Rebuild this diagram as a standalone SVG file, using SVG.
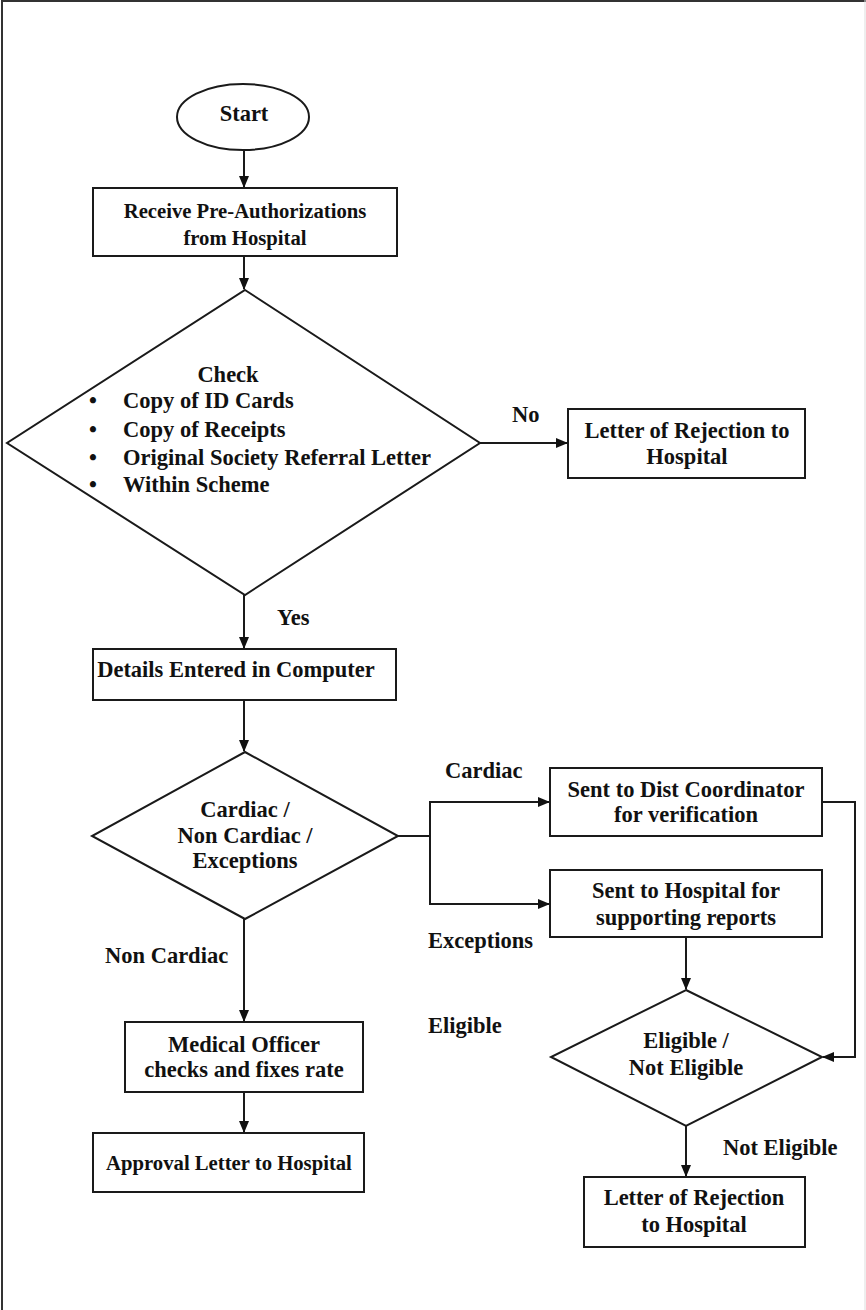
<svg xmlns="http://www.w3.org/2000/svg" width="866" height="1310" viewBox="0 0 866 1310">
<defs>
<marker id="ah" markerWidth="12" markerHeight="10" refX="11" refY="5" orient="auto" markerUnits="userSpaceOnUse">
<path d="M0,0 L12,5 L0,10 Z" fill="#111"/>
</marker>
<style>
.s{fill:#fff;stroke:#1a1a1a;stroke-width:2}
.c{fill:none;stroke:#1a1a1a;stroke-width:2}
.t{font-family:"Liberation Serif",serif;font-weight:bold;font-size:22.5px;fill:#111}
.sm{font-size:20.7px}
.m{text-anchor:middle}
</style>
</defs>
<rect x="0" y="0" width="866" height="1310" fill="#fff"/>
<line x1="2" y1="1" x2="2" y2="1310" stroke="#333" stroke-width="2"/>
<line x1="1" y1="1" x2="866" y2="1" stroke="#333" stroke-width="2"/>
<line x1="865" y1="0" x2="865" y2="1310" stroke="#ddd" stroke-width="1"/>

<g id="connectors">
<line class="c" x1="244" y1="150" x2="244" y2="187" marker-end="url(#ah)"/>
<line class="c" x1="244" y1="256" x2="244" y2="289" marker-end="url(#ah)"/>
<line class="c" x1="480" y1="443" x2="567" y2="443" marker-end="url(#ah)"/>
<line class="c" x1="244" y1="595" x2="244" y2="648" marker-end="url(#ah)"/>
<line class="c" x1="244" y1="700" x2="244" y2="751" marker-end="url(#ah)"/>
<polyline class="c" points="398,836 430,836 430,802 549,802" marker-end="url(#ah)"/>
<polyline class="c" points="430,836 430,904 549,904" marker-end="url(#ah)"/>
<polyline class="c" points="822,802 855,802 855,1057 823,1057" marker-end="url(#ah)"/>
<line class="c" x1="686" y1="937" x2="686" y2="989" marker-end="url(#ah)"/>
<line class="c" x1="686" y1="1126" x2="686" y2="1176" marker-end="url(#ah)"/>
<line class="c" x1="244" y1="919" x2="244" y2="1021" marker-end="url(#ah)"/>
<line class="c" x1="244" y1="1092" x2="244" y2="1132" marker-end="url(#ah)"/>
<text class="t" x="512" y="422">No</text>
<text class="t" x="277" y="625">Yes</text>
<text class="t" x="445" y="778">Cardiac</text>
<text class="t" x="428" y="948">Exceptions</text>
<text class="t" x="105" y="963">Non Cardiac</text>
<text class="t" x="428" y="1033">Eligible</text>
<text class="t" x="723" y="1155">Not Eligible</text>
</g>

<g id="start">
<ellipse class="s" cx="243" cy="117" rx="66" ry="33"/>
<text class="t m" x="244" y="121">Start</text>
</g>

<g id="receive">
<rect class="s" x="93" y="188" width="304" height="68"/>
<text class="t sm m" x="245" y="218">Receive Pre-Authorizations</text>
<text class="t sm m" x="245" y="245">from Hospital</text>
</g>

<g id="check">
<polygon class="s" points="245,290 480,443 245,595 7,443"/>
<text class="t m" x="228" y="382">Check</text>
<text class="t" x="89" y="408">•</text>
<text class="t" x="123" y="408">Copy of ID Cards</text>
<text class="t" x="89" y="437">•</text>
<text class="t" x="123" y="437">Copy of Receipts</text>
<text class="t" x="89" y="465">•</text>
<text class="t" x="123" y="465">Original Society Referral Letter</text>
<text class="t" x="89" y="492">•</text>
<text class="t" x="123" y="492">Within Scheme</text>
</g>

<g id="reject1">
<rect class="s" x="568" y="409" width="237" height="69"/>
<text class="t m" x="687" y="438">Letter of Rejection to</text>
<text class="t m" x="687" y="464">Hospital</text>
</g>

<g id="details">
<rect class="s" x="93" y="649" width="303" height="51"/>
<text class="t m" x="236" y="677">Details Entered in Computer</text>
</g>

<g id="type">
<polygon class="s" points="245,752 398,836 245,919 92,836"/>
<text class="t m" x="245" y="817">Cardiac /</text>
<text class="t m" x="245" y="843">Non Cardiac /</text>
<text class="t m" x="245" y="868">Exceptions</text>
</g>

<g id="dist">
<rect class="s" x="550" y="768" width="272" height="68"/>
<text class="t m" x="686" y="797">Sent to Dist Coordinator</text>
<text class="t m" x="686" y="822">for verification</text>
</g>

<g id="supporting">
<rect class="s" x="550" y="870" width="272" height="67"/>
<text class="t m" x="686" y="898">Sent to Hospital for</text>
<text class="t m" x="686" y="925">supporting reports</text>
</g>

<g id="eligible">
<polygon class="s" points="686,990 822,1057 686,1126 551,1057"/>
<text class="t m" x="686" y="1048">Eligible /</text>
<text class="t m" x="686" y="1075">Not Eligible</text>
</g>

<g id="reject2">
<rect class="s" x="584" y="1177" width="221" height="70"/>
<text class="t m" x="694" y="1205">Letter of Rejection</text>
<text class="t m" x="694" y="1232">to Hospital</text>
</g>

<g id="medical">
<rect class="s" x="125" y="1022" width="238" height="70"/>
<text class="t m" x="244" y="1052">Medical Officer</text>
<text class="t m" x="244" y="1077">checks and fixes rate</text>
</g>

<g id="approval">
<rect class="s" x="93" y="1133" width="271" height="59"/>
<text class="t sm m" x="229" y="1170">Approval Letter to Hospital</text>
</g>
</svg>
